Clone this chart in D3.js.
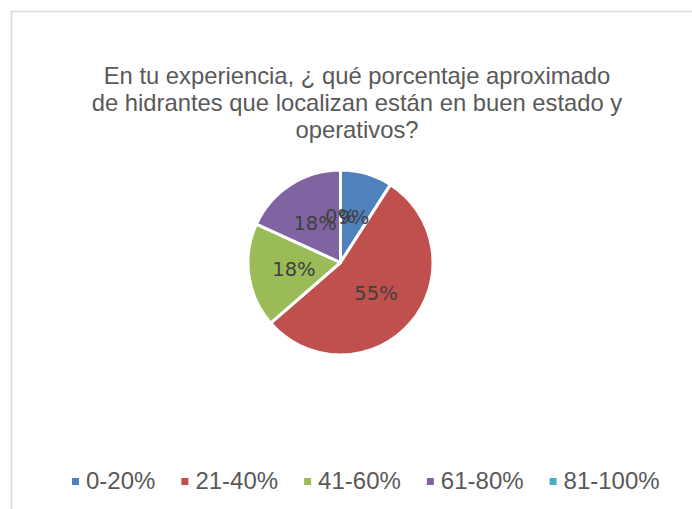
<!DOCTYPE html>
<html>
<head>
<meta charset="utf-8">
<script src="https://cdn.jsdelivr.net/npm/d3@7"></script>
<style>
  body { margin: 0; background: #fff; }
</style>
</head>
<body>
<div id="chart"></div>
<script>
// datos del gráfico
var categories = ["0-20%", "21-40%", "41-60%", "61-80%", "81-100%"];
var values = [1, 6, 2, 2, 0];   // respuestas (9%, 55%, 18%, 18%, 0%)
var colors = ["#4F81BD", "#C0504D", "#9BBB59", "#8064A2", "#4BACC6"];
var titleLines = [
    "En tu experiencia, ¿ qué porcentaje aproximado",
    "de hidrantes que localizan están en buen estado y",
    "operativos?"
];

let width = 692;
let height = 509;

var svg = d3.select("#chart").append("svg")
    .attr("width", width)
    .attr("height", height);

// marco del gráfico
svg.append("rect")
    .attr("x", 11.5)
    .attr("y", 11.5)
    .attr("width", 700)
    .attr("height", 520)
    .attr("fill", "#fff")
    .attr("stroke", "#d9d9d9")
    .attr("stroke-width", 1.5);

// título
svg.append("text")
    .attr("text-anchor", "middle")
    .attr("font-family", "'Liberation Sans', Arial, sans-serif")
    .attr("font-size", "23.8px")
    .attr("fill", "#595959")
    .selectAll("tspan")
    .data(titleLines)
    .enter()
    .append("tspan")
    .attr("x", 357)
    .attr("y", function (d, i) { return 84 + i * 27; })
    .text(function (d) { return d; });

// pastel
var cx = 340.5, cy = 262.5, r = 92.5;
var total = d3.sum(values);

var pie = d3.pie().sort(null).value(function (d) { return d; });
var arcs = pie(values);
var arc = d3.arc().innerRadius(0).outerRadius(r);
var labelArc = d3.arc().innerRadius(47).outerRadius(47);

var g = svg.append("g").attr("transform", "translate(" + cx + "," + cy + ")");

g.selectAll("path")
    .data(arcs)
    .enter()
    .append("path")
    .attr("d", arc)
    .attr("fill", function (d, i) { return colors[i]; })
    .attr("stroke", "#fff")
    .attr("stroke-width", 3)
    .attr("stroke-linejoin", "round");

// etiquetas de porcentaje
g.selectAll("text")
    .data(arcs)
    .enter()
    .append("text")
    .attr("transform", function (d) { return "translate(" + labelArc.centroid(d) + ")"; })
    .attr("dy", "0.36em")
    .attr("text-anchor", "middle")
    .attr("font-family", "'DejaVu Sans', sans-serif")
    .attr("font-size", "19.5px")
    .attr("fill", "#404040")
    .text(function (d) { return Math.round(d.data / total * 100) + "%"; });

// leyenda
var legend = svg.append("g")
    .attr("font-family", "'Liberation Sans', Arial, sans-serif")
    .attr("font-size", "24px")
    .attr("fill", "#595959");

var lx = 72;
categories.forEach(function (c, i) {
    legend.append("rect")
        .attr("x", lx)
        .attr("y", 478)
        .attr("width", 7)
        .attr("height", 7)
        .attr("fill", colors[i]);
    var t = legend.append("text")
        .attr("x", lx + 14)
        .attr("y", 489)
        .text(c);
    lx += 14 + t.node().getComputedTextLength() + 26;
});
</script>
</body>
</html>
